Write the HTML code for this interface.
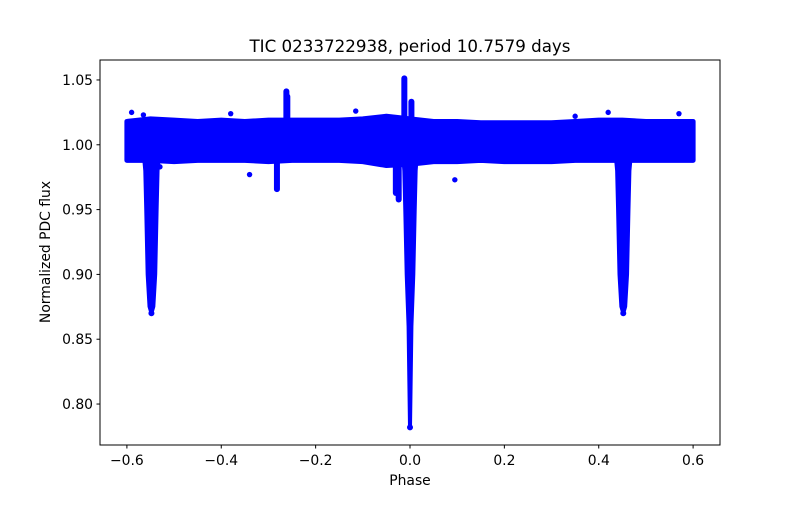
<!DOCTYPE html>
<html><head><meta charset="utf-8"><style>
body{margin:0;background:#fff;}
svg text{font-family:"DejaVu Sans","Liberation Sans",sans-serif;fill:#000;}
</style></head><body>
<svg id="chart" width="800" height="500">
<rect width="800" height="500" fill="#fff"/>
<g id="marks"></g>
<rect x="100" y="60" width="620" height="385" fill="none" stroke="#000" stroke-width="1"/>
<g id="axes"></g>
<text x="410" y="52" text-anchor="middle" font-size="16.7">TIC 0233722938, period 10.7579 days</text>
<text x="410" y="485" text-anchor="middle" font-size="13.9">Phase</text>
<text transform="translate(50,252) rotate(-90)" text-anchor="middle" font-size="13.9">Normalized PDC flux</text>
</svg>
<script>
const xTicks=[-0.6,-0.4,-0.2,0,0.2,0.4,0.6];
const xTickLabels=["−0.6","−0.4","−0.2","0.0","0.2","0.4","0.6"];
const yTicks=[0.80,0.85,0.90,0.95,1.00,1.05];
const yTickLabels=["0.80","0.85","0.90","0.95","1.00","1.05"];
// baseline band (phase bins, low/high flux)
const basePhase=[-0.6,-0.55,-0.5,-0.45,-0.4,-0.35,-0.3,-0.25,-0.2,-0.15,-0.1,-0.05,0,0.05,0.1,0.15,0.2,0.25,0.3,0.35,0.4,0.45,0.5,0.55,0.6];
const baseLo=[0.988,0.988,0.987,0.988,0.988,0.988,0.987,0.988,0.988,0.988,0.987,0.984,0.985,0.987,0.987,0.988,0.987,0.987,0.987,0.988,0.988,0.988,0.988,0.988,0.988];
const baseHi=[1.018,1.020,1.019,1.018,1.019,1.018,1.019,1.019,1.019,1.019,1.020,1.022,1.020,1.018,1.018,1.017,1.017,1.017,1.017,1.018,1.019,1.019,1.018,1.018,1.018];
// eclipse dips: centre phase, depth, flux levels and half-widths
const dipCenter=[-0.548,0.0,0.452];
const dipDepth=[0.870,0.782,0.870];
const dipLevels=[1.0,0.98,0.95,0.90,0.86];
const dipHalfW=[[0.018,0.013,0.011,0.008,0.004],[0.016,0.012,0.010,0.007,0.003],[0.018,0.013,0.011,0.008,0.004]];
// other features (phase, low, high)
const featPhase=[-0.262,-0.26,-0.024,-0.012,-0.03,-0.282,0.003];
const featLo=[0.99,0.99,0.957,0.99,0.962,0.965,0.99];
const featHi=[1.042,1.038,1.02,1.052,1.02,1.0,1.034];
// outliers
const outPhase=[-0.59,-0.38,-0.34,0.095,0.35,0.42,0.57,-0.565,-0.53,-0.115];
const outFlux=[1.025,1.024,0.977,0.973,1.022,1.025,1.024,1.023,0.983,1.026];

const X0=100,X1=720,Y0=60,Y1=445,xmin=-0.657,xmax=0.657,ymin=0.7684,ymax=1.0654;
const xs=v=>X0+(v-xmin)/(xmax-xmin)*(X1-X0);
const ys=v=>Y1-(v-ymin)/(ymax-ymin)*(Y1-Y0);
const NS="http://www.w3.org/2000/svg";
const marks=document.getElementById('marks'),axes=document.getElementById('axes');
function mk(tag,at,parent){const e=document.createElementNS(NS,tag);for(const k in at)e.setAttribute(k,at[k]);parent.appendChild(e);return e;}
const blue="#0000ff";
{
  const top=basePhase.map((p,i)=>[xs(p),ys(baseHi[i])]);
  const bot=basePhase.map((p,i)=>[xs(p),ys(baseLo[i])]).reverse();
  const b=mk('polygon',{points:[...top,...bot].map(p=>p.join(',')).join(' '),fill:blue,stroke:blue,'stroke-width':5,'stroke-linejoin':'round'},marks);
  
  
}
for(let d=0;d<dipCenter.length;d++){
  const c=dipCenter[d];let L=[],R=[];
  for(let k=0;k<dipLevels.length;k++){
    const f=Math.max(dipLevels[k],dipDepth[d]+0.005);
    L.push([xs(c-dipHalfW[d][k])-2,ys(f)]);R.unshift([xs(c+dipHalfW[d][k])+2,ys(f)]);
  }
  const pts=[...L,[xs(c)-2,ys(dipDepth[d])],[xs(c)+2,ys(dipDepth[d])],...R];
  const p=mk('polygon',{points:pts.map(p=>p.join(',')).join(' '),fill:blue},marks);
  
  
  const e=mk('circle',{cx:xs(c),cy:ys(dipDepth[d]),r:3,fill:blue},marks);
  
  
}
for(let i=0;i<featPhase.length;i++){
  const r=mk('rect',{x:xs(featPhase[i])-3,y:ys(featHi[i])-2,width:6,height:ys(featLo[i])-ys(featHi[i])+4,rx:3,fill:blue},marks);
  
  
}
for(let i=0;i<outPhase.length;i++){
  const c=mk('circle',{cx:xs(outPhase[i]),cy:ys(outFlux[i]),r:2.7,fill:blue},marks);
  
  
}
xTicks.forEach((v,i)=>{
  const l=mk('line',{x1:xs(v),x2:xs(v),y1:445,y2:448.5,stroke:'#000'},axes);
  
  
  const t=mk('text',{x:xs(v),y:465,'text-anchor':'middle','font-size':'13.9'},axes);
  t.textContent=xTickLabels[i];
  
  
});
yTicks.forEach((v,i)=>{
  const l=mk('line',{x1:96.5,x2:100,y1:ys(v),y2:ys(v),stroke:'#000'},axes);
  
  
  const t=mk('text',{x:93,y:ys(v)+5,'text-anchor':'end','font-size':'13.9'},axes);
  t.textContent=yTickLabels[i];
  
  
});
</script>
</body></html>
